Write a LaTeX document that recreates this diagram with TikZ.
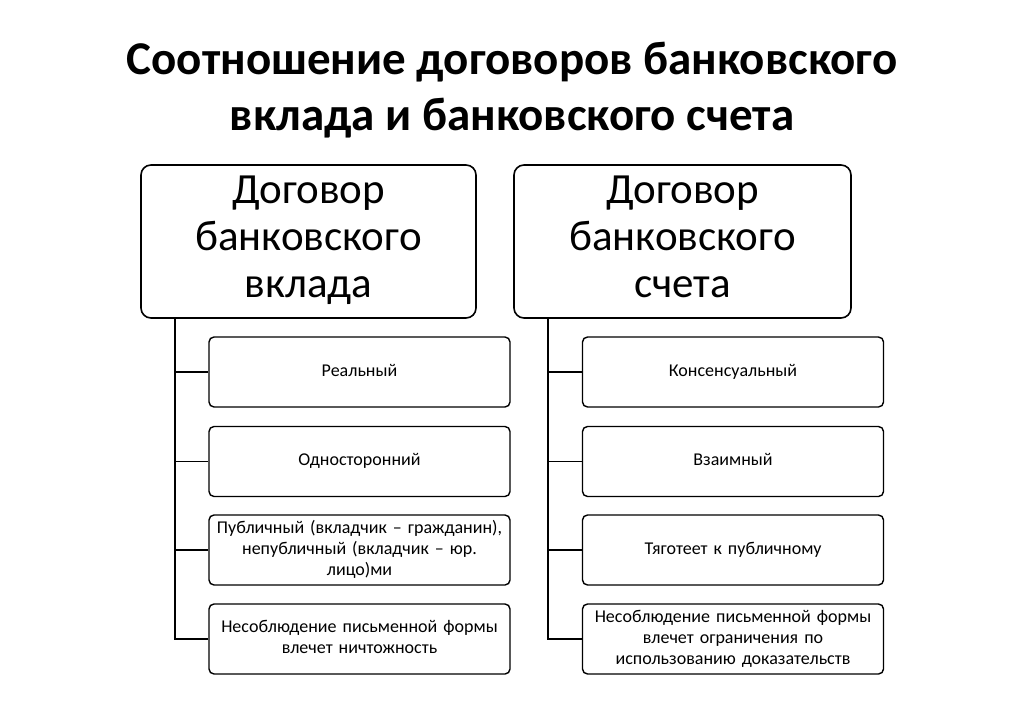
\documentclass[tikz,border=0pt]{standalone}
\usepackage{fontspec}
\setmainfont{Carlito}
\begin{document}
\begin{tikzpicture}[x=1pt,y=-1pt,
  head/.style={draw,line width=1.6pt,rounded corners=10pt,fill=white,align=center,font=\fontsize{43}{47}\selectfont,inner sep=0pt},
  item/.style={draw,line width=1.4pt,rounded corners=5pt,fill=white,align=center,font=\fontsize{18}{21}\selectfont,minimum width=301pt,minimum height=70pt,text width=295pt,inner sep=0pt},
  conn/.style={line width=1.4pt}]
\useasboundingbox (0,0) rectangle (1024,708);
\node[font=\bfseries\fontsize{47}{56}\selectfont,align=center] (title) at (512,90) {Соотношение договоров банковского\\вклада и банковского счета};
\node[head,minimum width=335pt,minimum height=153pt] (L) at (308.5,241.5) {\strut Договор\\банковского\\вклада\strut};
\node[head,minimum width=337pt,minimum height=153pt] (R) at (682.5,241.5) {\strut Договор\\банковского\\счета\strut};
\node[item] (l1) at (359.5,372) {\strut Реальный};
\node[item] (l2) at (359.5,461.5) {\strut Односторонний};
\node[item] (l3) at (359.5,550) {\strut Публичный (вкладчик – гражданин),\\непубличный (вкладчик – юр.\\лицо)ми\strut};
\node[item] (l4) at (359.5,639) {\strut Несоблюдение письменной формы\\влечет ничтожность\strut};
\node[item] (r1) at (733,372) {\strut Консенсуальный};
\node[item] (r2) at (733,461.5) {\strut Взаимный};
\node[item] (r3) at (733,550) {\strut Тяготеет к публичному};
\node[item] (r4) at (733,639) {\strut Несоблюдение письменной формы\\влечет ограничения по\\использованию доказательств\strut};
\coordinate (lt) at (175,318);
\coordinate (rt) at (548,318);
\draw[conn] (lt) |- (l4.west);
\foreach \n in {l1,l2,l3} \draw[conn] (lt|-\n.west) -- (\n.west);
\draw[conn] (rt) |- (r4.west);
\foreach \n in {r1,r2,r3} \draw[conn] (rt|-\n.west) -- (\n.west);
\end{tikzpicture}
\end{document}
